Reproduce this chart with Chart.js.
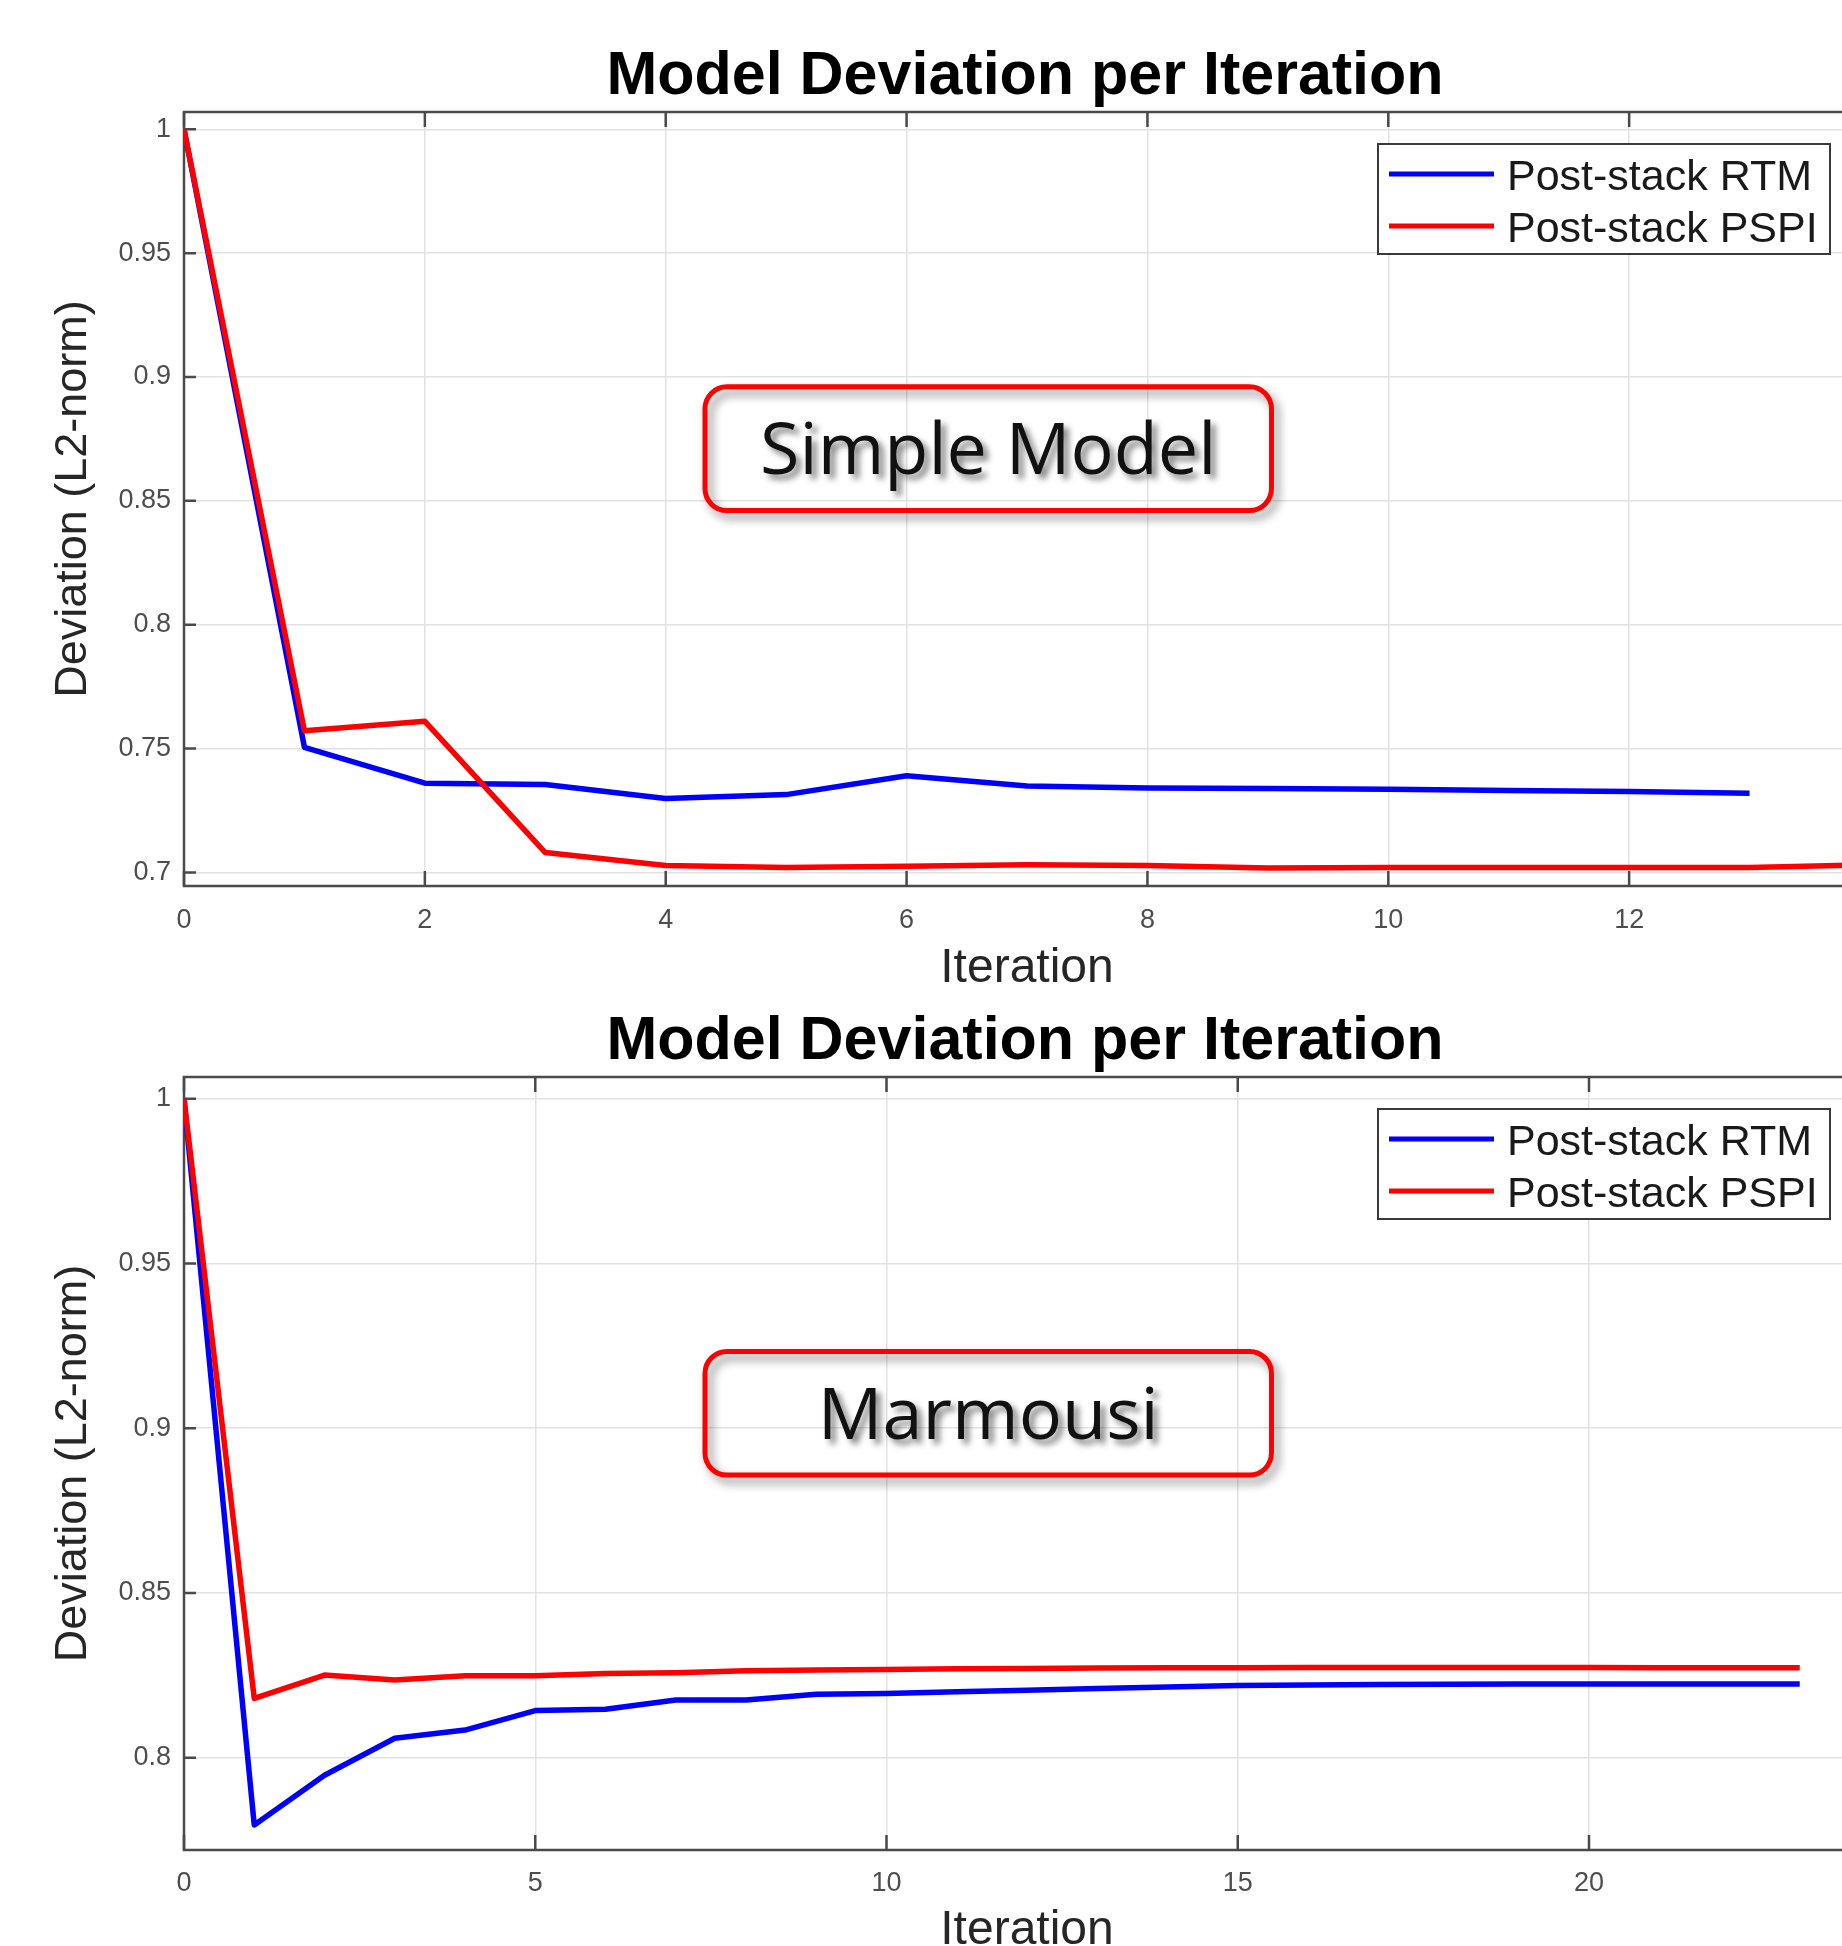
<!DOCTYPE html>
<html lang="en">
<head>
<meta charset="UTF-8">
<title>Model Deviation per Iteration</title>
<script src="https://cdn.jsdelivr.net/npm/chart.js"></script>
<style>
  html, body { margin: 0; padding: 0; width: 1842px; height: 1946px; overflow: hidden; background: #fff; }
  canvas { position: absolute; left: 0; }
  #simpleChart { top: 0; }
  #marmChart { top: 990px; }
</style>
</head>
<body>
<canvas id="simpleChart" width="1900" height="1000"></canvas>
<canvas id="marmChart" width="1900" height="1000"></canvas>

<script>
  // --- Simple model ---
  const simpleIter = [0, 1, 2, 3, 4, 5, 6, 7, 8, 9, 10, 11, 12, 13, 14];
  const simpleRTM  = [1.0, 0.7505, 0.736, 0.7355, 0.7298, 0.7314, 0.739, 0.7349, 0.7341, 0.7339, 0.7336, 0.7331, 0.7327, 0.7319];
  const simplePSPI = [1.0, 0.7572, 0.761, 0.708, 0.7028, 0.702, 0.7025, 0.7031, 0.7028, 0.7018, 0.702, 0.702, 0.702, 0.702, 0.7031];
  const simpleXTicks = [0, 2, 4, 6, 8, 10, 12];
  const simpleYTicks = [0.7, 0.75, 0.8, 0.85, 0.9, 0.95, 1];

  // --- Marmousi ---
  const marmIter = [0, 1, 2, 3, 4, 5, 6, 7, 8, 9, 10, 11, 12, 13, 14, 15, 16, 17, 18, 19, 20, 21, 22, 23];
  const marmRTM  = [1.0, 0.7796, 0.7947, 0.8059, 0.8084, 0.8143, 0.8147, 0.8175, 0.8175, 0.8193, 0.8195, 0.82, 0.8205,
                    0.821, 0.8215, 0.8219, 0.8221, 0.8222, 0.8223, 0.8224, 0.8224, 0.8224, 0.8224, 0.8224];
  const marmPSPI = [1.0, 0.818, 0.8251, 0.8236, 0.8249, 0.8249, 0.8256, 0.8258, 0.8264, 0.8266, 0.8268, 0.827, 0.8271,
                    0.8272, 0.8273, 0.8273, 0.8274, 0.8274, 0.8274, 0.8274, 0.8274, 0.8273, 0.8273, 0.8273];
  const marmXTicks = [0, 5, 10, 15, 20];
  const marmYTicks = [0.8, 0.85, 0.9, 0.95, 1];

  const seriesNames = ['Post-stack RTM', 'Post-stack PSPI'];
  const chartTitle = 'Model Deviation per Iteration';

  const SANS = '"Liberation Sans", Arial, sans-serif';
  Chart.defaults.font.family = SANS;

  // axes box + inward tick marks, matlab style
  const axesFrame = {
    id: 'axesFrame',
    beforeDatasetsDraw(chart) {
      const { ctx, chartArea: a, scales: { x, y } } = chart;
      ctx.save();
      ctx.strokeStyle = '#4a4a4a';
      ctx.lineWidth = 2.5;
      ctx.beginPath();
      x.ticks.forEach(t => {
        const px = x.getPixelForValue(t.value);
        ctx.moveTo(px, a.top); ctx.lineTo(px, a.top + 15);
        ctx.moveTo(px, a.bottom); ctx.lineTo(px, a.bottom - 15);
      });
      y.ticks.forEach(t => {
        const py = y.getPixelForValue(t.value);
        ctx.moveTo(a.left, py); ctx.lineTo(a.left + 12, py);
      });
      ctx.stroke();
      ctx.strokeRect(a.left, a.top, a.right - a.left, a.bottom - a.top);
      ctx.restore();
    }
  };

  const boxLegend = {
    id: 'boxLegend',
    afterDraw(chart) {
      const { ctx, chartArea: a } = chart;
      const w = 452, h = 110;
      const left = a.right - 40 - w, top = a.top + 32;
      ctx.save();
      ctx.fillStyle = '#fff';
      ctx.fillRect(left, top, w, h);
      ctx.strokeStyle = '#3a3a3a';
      ctx.lineWidth = 2;
      ctx.strokeRect(left, top, w, h);
      ctx.font = '43px ' + SANS;
      ctx.textBaseline = 'middle';
      chart.data.datasets.forEach((ds, i) => {
        const cy = top + 30 + i * 52;
        ctx.strokeStyle = ds.borderColor;
        ctx.lineWidth = 5;
        ctx.beginPath();
        ctx.moveTo(left + 11, cy);
        ctx.lineTo(left + 116, cy);
        ctx.stroke();
        ctx.fillStyle = '#1a1a1a';
        ctx.fillText(ds.label, left + 129, cy + 4);
      });
      ctx.restore();
    }
  };

  const noteBox = {
    id: 'noteBox',
    afterDatasetsDraw(chart, args, o) {
      const { ctx, chartArea: a } = chart;
      const w = a.right - a.left, h = a.bottom - a.top;
      const x0 = a.left + w * 0.309, x1 = a.left + w * 0.645;
      const y0 = a.top + h * 0.355, y1 = a.top + h * 0.515;
      ctx.save();
      ctx.shadowColor = 'rgba(0,0,0,0.45)';
      ctx.shadowBlur = 10;
      ctx.shadowOffsetX = 5;
      ctx.shadowOffsetY = 6;
      ctx.strokeStyle = '#ff0000';
      ctx.lineWidth = 5;
      ctx.beginPath();
      ctx.roundRect(x0, y0, x1 - x0, y1 - y0, 22);
      ctx.stroke();
      ctx.font = '72px "Open Sans", sans-serif';
      ctx.textAlign = 'center';
      ctx.textBaseline = 'middle';
      ctx.shadowColor = 'rgba(0,0,0,0.5)';
      ctx.shadowOffsetX = 5;
      ctx.shadowOffsetY = 5;
      ctx.shadowBlur = 6;
      ctx.fillStyle = '#111';
      ctx.fillText(o.text, (x0 + x1) / 2, (y0 + y1) / 2 + 5);
      ctx.restore();
    }
  };

  const heading = {
    id: 'heading',
    afterDraw(chart, args, o) {
      const { ctx, chartArea: a } = chart;
      ctx.save();
      ctx.font = 'bold 61px ' + SANS;
      ctx.fillStyle = '#000';
      ctx.textAlign = 'center';
      ctx.textBaseline = 'alphabetic';
      ctx.fillText(o.text, (a.left + a.right) / 2 - 2, a.top - 18);
      ctx.restore();
    }
  };

  function series(xs, ys) {
    return ys.map((v, i) => ({ x: xs[i], y: v }));
  }

  function buildChart(id, c) {
    return new Chart(document.getElementById(id), {
      type: 'line',
      data: {
        datasets: [
          { label: seriesNames[0], data: series(c.iter, c.rtm), borderColor: '#0000ff', order: 1 },
          { label: seriesNames[1], data: series(c.iter, c.pspi), borderColor: '#ff0000', order: 0 }
        ]
      },
      options: {
        responsive: false,
        animation: false,
        devicePixelRatio: 1,
        layout: { padding: { top: c.padTop, right: 30, left: 0, bottom: 0 } },
        elements: {
          line: { borderWidth: 5.5, tension: 0, borderJoinStyle: 'round', fill: false },
          point: { radius: 0, hoverRadius: 0 }
        },
        scales: {
          x: {
            type: 'linear',
            min: 0,
            max: c.xMax,
            afterBuildTicks: s => { s.ticks = c.xTicks.map(v => ({ value: v })); },
            afterFit: s => { s.height = c.xHeight; },
            grid: { color: '#e2e2e2', lineWidth: 1.5, drawTicks: false },
            border: { display: false },
            ticks: { color: '#4d4d4d', font: { size: 27 }, padding: c.xTickPad, maxRotation: 0,
                      callback: v => String(v) },
            title: { display: true, text: 'Iteration', color: '#262626', font: { size: 48 },
                     padding: { top: 0, bottom: c.xTitlePad } }
          },
          y: {
            min: c.yMin,
            max: c.yMax,
            afterBuildTicks: s => { s.ticks = c.yTicks.map(v => ({ value: v })); },
            afterFit: s => { s.width = 184; },
            grid: { color: '#e2e2e2', lineWidth: 1.5, drawTicks: false },
            border: { display: false },
            ticks: { color: '#4d4d4d', font: { size: 27 }, padding: 13, callback: v => String(v) },
            title: { display: true, text: 'Deviation (L2-norm)', color: '#262626', font: { size: 45 },
                     padding: { top: 47, bottom: 0 } }
          }
        },
        plugins: {
          legend: { display: false },
          tooltip: { enabled: false },
          heading: { text: chartTitle },
          noteBox: { text: c.note }
        }
      },
      plugins: [axesFrame, noteBox, boxLegend, heading]
    });
  }

  buildChart('simpleChart', {
    iter: simpleIter, rtm: simpleRTM, pspi: simplePSPI,
    xTicks: simpleXTicks, yTicks: simpleYTicks,
    xMax: 14, yMin: 0.6945, yMax: 1.007,
    padTop: 112, xHeight: 114, xTickPad: 18, xTitlePad: 2,
    note: 'Simple Model'
  });

  buildChart('marmChart', {
    iter: marmIter, rtm: marmRTM, pspi: marmPSPI,
    xTicks: marmXTicks, yTicks: marmYTicks,
    xMax: 24, yMin: 0.772, yMax: 1.0066,
    padTop: 87, xHeight: 140, xTickPad: 17, xTitlePad: 30,
    note: 'Marmousi'
  });
</script>
</body>
</html>
